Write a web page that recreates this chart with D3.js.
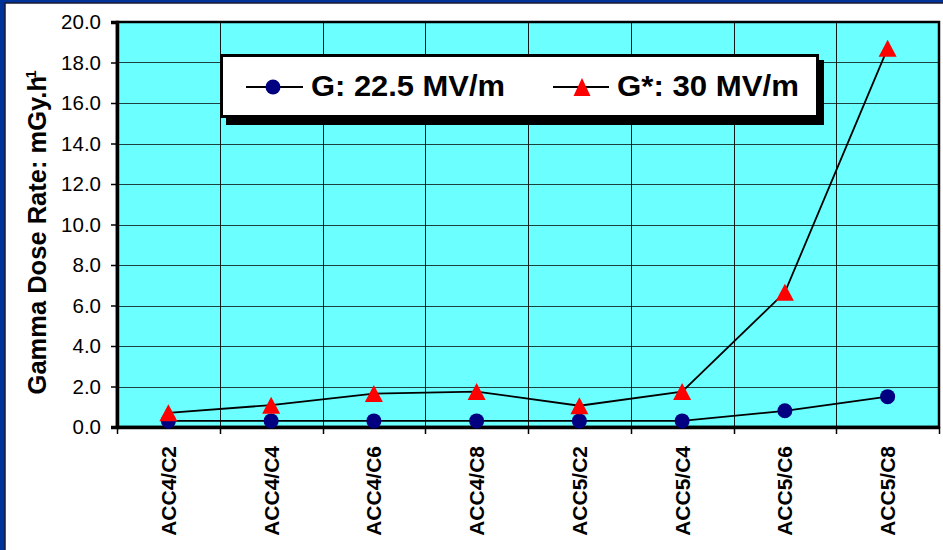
<!DOCTYPE html>
<html>
<head>
<meta charset="utf-8">
<script src="https://cdn.jsdelivr.net/npm/d3@7"></script>
<style>
  body { margin: 0; background: #fff; }
  svg { display: block; font-family: "Liberation Sans", Arial, sans-serif; }
</style>
</head>
<body>
<div id="chart"></div>
<script>
const W = 943, H = 550;

// data
const categories = ["ACC4/C2", "ACC4/C4", "ACC4/C6", "ACC4/C8", "ACC5/C2", "ACC5/C4", "ACC5/C6", "ACC5/C8"];
const gValues = [0.3, 0.3, 0.3, 0.3, 0.3, 0.3, 0.8, 1.5];
const gStarValues = [0.7, 1.08, 1.65, 1.75, 1.05, 1.75, 6.65, 18.7];
const yTicks = [0, 2, 4, 6, 8, 10, 12, 14, 16, 18, 20];
const seriesNames = ["G: 22.5 MV/m", "G*: 30 MV/m"];

const plot = { left: 117, top: 22, right: 939, bottom: 427 };

const svg = d3.select("#chart").append("svg")
    .attr("width", W).attr("height", H);

// slide frame
svg.append("rect").attr("width", W).attr("height", H).attr("fill", "#003399");
svg.append("rect").attr("x", 5).attr("y", 3).attr("width", W).attr("height", H)
    .attr("fill", "#fff").attr("stroke", "#1a1a33").attr("stroke-width", 1.5);

let x = d3.scaleBand().domain(categories).range([plot.left, plot.right]);
let y = d3.scaleLinear().domain([0, 20]).range([plot.bottom, plot.top]);

// plot area
svg.append("rect")
    .attr("x", plot.left).attr("y", plot.top)
    .attr("width", plot.right - plot.left).attr("height", plot.bottom - plot.top)
    .attr("fill", "#6bffff");

// gridlines
svg.append("g").selectAll("line").data(yTicks.slice(1)).enter().append("line")
    .attr("x1", plot.left).attr("x2", plot.right)
    .attr("y1", d => Math.round(y(d)) + 0.5).attr("y2", d => Math.round(y(d)) + 0.5)
    .attr("stroke", "#1d4040").attr("stroke-width", 1);

svg.append("g").selectAll("line").data(categories.slice(1)).enter().append("line")
    .attr("x1", d => Math.round(x(d)) + 0.5).attr("x2", d => Math.round(x(d)) + 0.5)
    .attr("y1", plot.top).attr("y2", plot.bottom + 7)
    .attr("stroke", "#0d1a1a").attr("stroke-width", 1);

// frame
svg.append("rect")
    .attr("x", plot.left).attr("y", plot.top)
    .attr("width", plot.right - plot.left).attr("height", plot.bottom - plot.top)
    .attr("fill", "none").attr("stroke", "#000").attr("stroke-width", 2.5);

// y axis
let yAxis = d3.axisLeft(y).tickValues(yTicks).tickFormat(d3.format(".1f")).tickSize(6).tickPadding(10);
let yg = svg.append("g").attr("transform", `translate(${plot.left},0)`).call(yAxis);
yg.select(".domain").attr("stroke", "#000").attr("stroke-width", 3.5);
yg.selectAll(".tick line").attr("stroke", "#000").attr("stroke-width", 1.5);
yg.selectAll(".tick text").attr("font-size", 20.5).attr("fill", "#000")
    .attr("font-family", "Liberation Sans, Arial, sans-serif");

// x axis
let xAxis = d3.axisBottom(x).tickSize(0).tickPadding(0);
let xg = svg.append("g").attr("transform", `translate(0,${plot.bottom})`).call(xAxis);
xg.select(".domain").attr("stroke", "#000").attr("stroke-width", 3.5);
xg.selectAll(".tick text")
    .attr("font-size", 21).attr("font-weight", "bold").attr("fill", "#000")
    .attr("font-family", "Liberation Sans, Arial, sans-serif")
    .attr("transform", "rotate(-90)")
    .attr("x", -19).attr("y", 0).attr("dy", "0.36em")
    .attr("text-anchor", "end");
// boundary tick marks
svg.append("g").selectAll("line").data([...categories, null]).enter().append("line")
    .attr("x1", (d, i) => Math.round(plot.left + i * x.step()) + 0.5)
    .attr("x2", (d, i) => Math.round(plot.left + i * x.step()) + 0.5)
    .attr("y1", plot.bottom).attr("y2", plot.bottom + 7)
    .attr("stroke", "#000").attr("stroke-width", 1.5);

// y title
let yt = svg.append("text")
    .attr("transform", `translate(46,${(plot.top + plot.bottom) / 2 + 8}) rotate(-90)`)
    .attr("text-anchor", "middle")
    .attr("font-size", 25.5).attr("font-weight", "bold").attr("fill", "#000");
yt.append("tspan").text("Gamma Dose Rate: mGy.h");
yt.append("tspan").attr("dx", -7).attr("dy", -10).attr("font-size", 14).text("-1");

// series
const cx = d => x(d) + x.bandwidth() / 2;
let line = d3.line().x(d => cx(d.c)).y(d => y(d.v));
let gData = categories.map((c, i) => ({ c: c, v: gValues[i] }));
let gsData = categories.map((c, i) => ({ c: c, v: gStarValues[i] }));

svg.append("path").datum(gData).attr("d", line)
    .attr("fill", "none").attr("stroke", "#000").attr("stroke-width", 1.8);
svg.append("path").datum(gsData).attr("d", line)
    .attr("fill", "none").attr("stroke", "#000").attr("stroke-width", 1.8);

svg.append("g").selectAll("circle").data(gData).enter().append("circle")
    .attr("cx", d => cx(d.c)).attr("cy", d => y(d.v)).attr("r", 7.5)
    .attr("fill", "#000080");

function triangle(w, h) {
    return `M0,${-h / 2}L${w / 2},${h / 2}L${-w / 2},${h / 2}Z`;
}
svg.append("g").selectAll("path").data(gsData).enter().append("path")
    .attr("d", triangle(18, 17))
    .attr("transform", d => `translate(${cx(d.c)},${y(d.v)})`)
    .attr("fill", "#ff0000");

// legend
let lg = svg.append("g");
lg.append("rect").attr("x", 226).attr("y", 60).attr("width", 598).attr("height", 65).attr("fill", "#000");
lg.append("rect").attr("x", 221.5).attr("y", 55.5).attr("width", 596).attr("height", 61)
    .attr("fill", "#fff").attr("stroke", "#000").attr("stroke-width", 3);

const legY = 87;
lg.append("line").attr("x1", 246).attr("x2", 303).attr("y1", legY).attr("y2", legY)
    .attr("stroke", "#000").attr("stroke-width", 1.8);
lg.append("circle").attr("cx", 273).attr("cy", legY).attr("r", 7.5).attr("fill", "#000080");
lg.append("text").attr("x", 311).attr("y", 95.5)
    .attr("font-size", 29).attr("font-weight", "bold")
    .attr("textLength", 194).attr("lengthAdjust", "spacingAndGlyphs")
    .text(seriesNames[0]);

lg.append("line").attr("x1", 553).attr("x2", 609).attr("y1", legY).attr("y2", legY)
    .attr("stroke", "#000").attr("stroke-width", 1.8);
lg.append("path").attr("d", triangle(17, 18))
    .attr("transform", `translate(582,${legY})`).attr("fill", "#ff0000");
lg.append("text").attr("x", 617).attr("y", 95.5)
    .attr("font-size", 29).attr("font-weight", "bold")
    .attr("textLength", 182).attr("lengthAdjust", "spacingAndGlyphs")
    .text(seriesNames[1]);
</script>
</body>
</html>
